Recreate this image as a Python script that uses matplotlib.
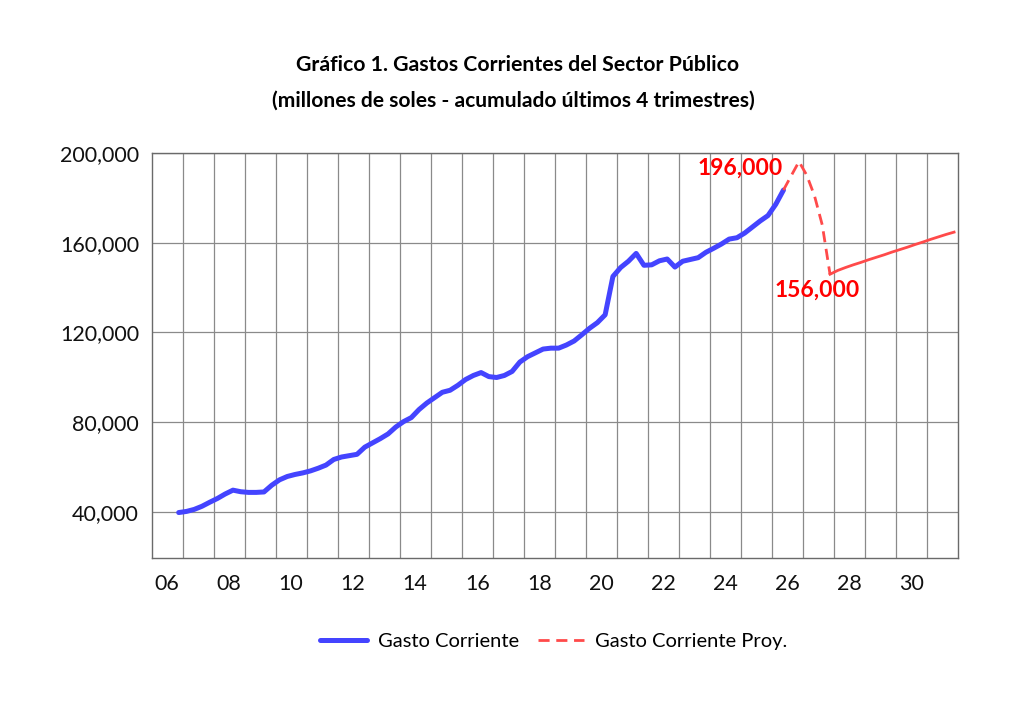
import numpy as np
import pandas as pd
import matplotlib
matplotlib.use("Agg")
import matplotlib.pyplot as plt
from matplotlib.ticker import FuncFormatter, FixedLocator

plt.rcParams['font.family'] = ['Lato', 'DejaVu Sans']

# Quarterly data, millones de soles (acumulado ultimos 4 trimestres)
gasto_start, gasto_end = '2006Q4', '2026Q2'
gasto_corriente = [
    39600,
    40100, 41000, 42400, 44200,
    45900, 47900, 49600, 48900,
    48600, 48600, 48800, 51800,
    54200, 55700, 56600, 57300,
    58200, 59400, 60800, 63300,
    64400, 65000, 65600, 68800,
    70700, 72600, 74700, 77800,
    80200, 82000, 85600, 88500,
    90900, 93300, 94200, 96400,
    99000, 100800, 102100, 100300,
    99900, 100800, 102600, 106800,
    109200, 110900, 112600, 113000,
    113000, 114400, 116200, 119000,
    121900, 124400, 127900, 145000,
    149000, 151800, 155300, 150000,
    150200, 152000, 152800, 149200,
    151800, 152600, 153400, 155800,
    157600, 159500, 161700, 162300,
    164400, 167100, 169800, 172200,
    177200, 183600,
]

proy_start, proy_end = '2026Q2', '2027Q4'
gasto_proy = [183600, 190000, 196300, 190200, 181000, 168000, 146000]

tend_start, tend_end = '2027Q4', '2031Q4'
gasto_tend = [146000, 147700, 149000, 150200, 151300, 152500, 153600, 154700,
              155900, 157000, 158100, 159300, 160400, 161600, 162700, 163800,
              164800]

year_labels = ['06', '08', '10', '12', '14', '16', '18', '20', '22', '24',
               '26', '28', '30']
y_ticks = [40000, 80000, 120000, 160000, 200000]


def quarter_x(start, end):
    p = pd.period_range(start, end, freq='Q')
    return p.year + (p.quarter - 0.5) / 4.0


BLUE = '#4444FF'
RED = '#FF4A4A'

fig = plt.figure(figsize=(10.24, 7.11), dpi=100)
ax = fig.add_axes([0.148, 0.2156, 0.7875, 0.5688])

ax.plot(quarter_x(gasto_start, gasto_end), gasto_corriente, color=BLUE,
        lw=3.6, solid_capstyle='round', label='Gasto Corriente', zorder=3)
ax.plot(quarter_x(proy_start, proy_end), gasto_proy, color=RED, lw=2.0,
        dashes=(4, 2.4), label='Gasto Corriente Proy.', zorder=3)
ax.plot(quarter_x(tend_start, tend_end), gasto_tend, color=RED, lw=2.0,
        zorder=3)

ax.set_xlim(2006, 2032)
ax.set_ylim(19440, 200000)

# year gridlines on boundaries, labels centred in the year
ax.xaxis.set_minor_locator(FixedLocator(np.arange(2007, 2032)))
ax.set_xticks([2006.5 + 2 * i for i in range(len(year_labels))])
ax.set_xticklabels(year_labels)
ax.set_yticks(y_ticks)
ax.yaxis.set_major_formatter(FuncFormatter(lambda v, p: f'{int(v):,}'))

ax.grid(False)
ax.grid(True, which='minor', axis='x', color='#8a8a8a', lw=0.9)
ax.grid(True, which='major', axis='y', color='#8a8a8a', lw=0.9)
ax.set_axisbelow(True)
ax.tick_params(which='both', length=0)
ax.tick_params(axis='y', labelsize=15.5, pad=9, colors='#111111')
ax.tick_params(axis='x', labelsize=15.5, pad=12, colors='#111111')
for s in ax.spines.values():
    s.set_color('#6a6a6a')
    s.set_linewidth(1.0)

ax.annotate('196,000', xy=(2026.875, 196300), xytext=(-12, -4.6),
            textcoords='offset points', ha='right', va='center',
            color='#FF0000', fontsize=16.5, fontweight='bold')
ax.annotate('156,000', xy=(2027.875, 146000), xytext=(-9, -11.5),
            textcoords='offset points', ha='center', va='center',
            color='#FF0000', fontsize=16.5, fontweight='bold')

fig.text(0.505, 0.9086, 'Gráfico 1. Gastos Corrientes del Sector Público',
         ha='center', va='center', fontsize=15.3, fontweight='bold')
fig.text(0.501, 0.858, '(millones de soles - acumulado últimos 4 trimestres)',
         ha='center', va='center', fontsize=15.1, fontweight='bold')

fig.legend(loc='center', bbox_to_anchor=(0.541, 0.098), ncol=2, frameon=False,
           fontsize=14.5, handlelength=2.3, columnspacing=0.95,
           handletextpad=0.55)

fig.savefig('out.png', dpi=100)
